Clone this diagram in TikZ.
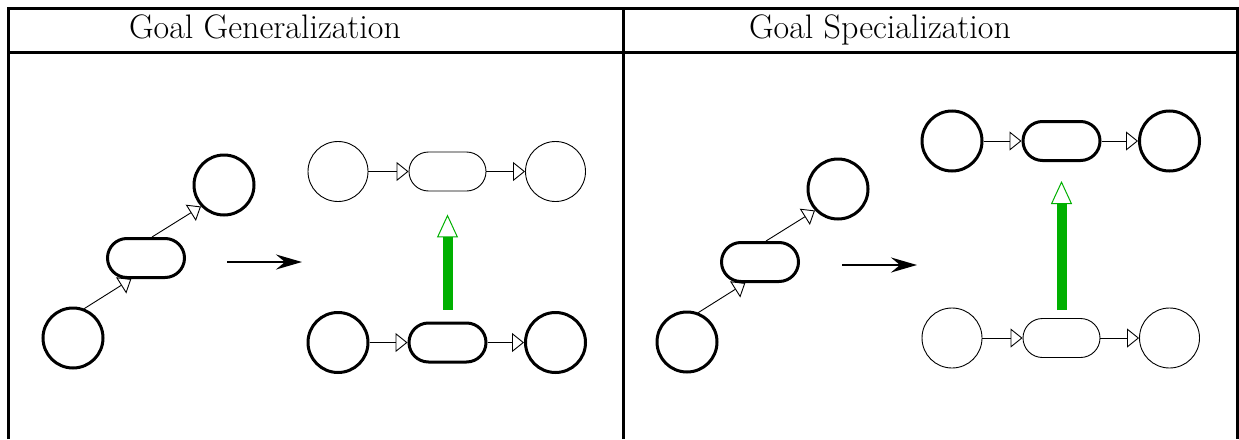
\documentclass[tikz,border=0pt]{standalone}
\usetikzlibrary{arrows.meta}
\definecolor{liftgreen}{RGB}{0,176,0}
\begin{document}
\begin{tikzpicture}[x=1pt, y=-1pt, font=\fontsize{34}{40}\selectfont,
  goal/.style={circle, draw, minimum size=60pt, inner sep=0pt},
  act/.style={draw, rectangle, rounded corners=19.5pt, minimum width=77pt, minimum height=39pt, inner sep=0pt},
  heavy/.style={line width=3pt},
  light/.style={line width=0.9pt},
  link/.style={line width=0.9pt, -{Triangle[open, length=12pt, width=19pt]}},
  lift/.style={liftgreen, line width=10pt, -{Triangle[open, length=23pt, width=21pt, line width=1pt]}},
  move/.style={line width=2.6pt, -{Stealth[length=26pt, width=15pt, inset=9pt]}}]
  \useasboundingbox (0,0) rectangle (1239,439);
  \draw[line width=3pt] (8,439) -- (8,8) -- (1237,8) -- (1237,439);
  \draw[line width=3pt] (8,52) -- (1237,52) (623,8) -- (623,439);
  \node[anchor=base] (genTitle) at (265,38) {Goal Generalization};
  \node[anchor=base] (specTitle) at (880,38) {Goal Specialization};
  % diagonal chains
  \foreach \cx/\cy/\n in {0/0/gen, 614/4/spec} {
    \node[goal, heavy] (\n1) at (73+\cx,338+\cy) {};
    \node[act, heavy] (\n2) at (146+\cx,258+\cy) {};
    \node[goal, heavy] (\n3) at (224+\cx,185+\cy) {};
    \draw[link] (\n1.69) -- (\n2.235);
    \draw[link] (\n2.74) -- (\n3.223);
  }
  \coordinate (mvA) at (227,262); \coordinate (mvB) at (302,262);
  \coordinate (mvC) at (842,265); \coordinate (mvD) at (917,265);
  \draw[move] (mvA) -- (mvB);
  \draw[move] (mvC) -- (mvD);
  % horizontal chains
  \foreach \cx/\cy/\lw/\n in {338/171.5/light/gu, 338/342.5/heavy/gd, 952/141/heavy/su, 952/338/light/sd} {
    \node[goal, \lw] (\n1) at (\cx,\cy) {};
    \node[act, \lw] (\n2) at (\cx+109.5,\cy) {};
    \node[goal, \lw] (\n3) at (\cx+217.5,\cy) {};
    \draw[link] (\n1) -- (\n2);
    \draw[link] (\n2) -- (\n3);
  }
  \draw[lift, shorten <=12pt, shorten >=23pt] (gd2) -- (gu2);
  \draw[lift, shorten <=8pt, shorten >=19pt] (sd2) -- (su2);
\end{tikzpicture}
\end{document}
